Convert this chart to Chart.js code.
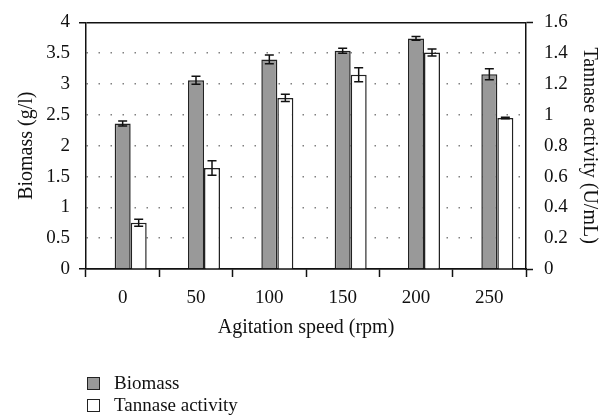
<!DOCTYPE html>
<html>
<head>
<meta charset="utf-8">
<script src="https://cdn.jsdelivr.net/npm/chart.js@4/dist/chart.umd.min.js"></script>
<style>
  html, body { margin: 0; padding: 0; background: #fff; }
  #wrap { position: relative; width: 608px; height: 418px; }
  #legend { position: absolute; left: 87px; top: 372px; font-family: "Liberation Serif", serif; font-size: 19px; color: #111; }
  .item { display: flex; align-items: center; height: 22px; }
  .box { width: 11px; height: 11px; border: 1.5px solid #222; margin-right: 14px; box-sizing: content-box; }
</style>
</head>
<body>
<div id="wrap">
  <canvas id="c" width="608" height="418"></canvas>
  <div id="legend"></div>
</div>
<script>
const categories = ['0', '50', '100', '150', '200', '250'];
const biomass = [2.36, 3.06, 3.40, 3.54, 3.74, 3.16];
const biomassErr = [0.04, 0.065, 0.07, 0.04, 0.03, 0.09];
const tannase = [0.30, 0.655, 1.11, 1.26, 1.405, 0.98];
const tannaseErr = [0.023, 0.047, 0.024, 0.045, 0.023, 0.005];
const leftTicks = [0, 0.5, 1, 1.5, 2, 2.5, 3, 3.5, 4];
const rightTicks = [0, 0.2, 0.4, 0.6, 0.8, 1, 1.2, 1.4, 1.6];

const FONT = '"Liberation Serif", "Times New Roman", serif';
const GREY = '#999999';
const EDGE = '#222222';

const errorBars = {
  id: 'errorBars',
  afterDatasetsDraw(chart) {
    const ctx = chart.ctx;
    const errs = { 1: biomassErr, 2: tannaseErr };
    ctx.save();
    ctx.strokeStyle = '#111';
    ctx.lineWidth = 1.5;
    [1, 2].forEach(di => {
      const meta = chart.getDatasetMeta(di);
      const ds = chart.data.datasets[di];
      const scale = chart.scales[ds.yAxisID];
      meta.data.forEach((bar, i) => {
        const v = ds.data[i];
        const e = errs[di][i];
        const x = bar.x;
        const yTop = scale.getPixelForValue(v + e);
        const yBot = scale.getPixelForValue(v - e);
        const cap = 4.5;
        ctx.beginPath();
        ctx.moveTo(x, yTop); ctx.lineTo(x, yBot);
        ctx.moveTo(x - cap, yTop); ctx.lineTo(x + cap, yTop);
        ctx.moveTo(x - cap, yBot); ctx.lineTo(x + cap, yBot);
        ctx.stroke();
      });
    });
    ctx.restore();
  }
};

const isEdge = (v) => v === 0 || v === 4;

const chart = new Chart(document.getElementById('c'), {
  type: 'bar',
  data: {
    labels: categories,
    datasets: [
      { label: '', data: categories.map(() => null), yAxisID: 'y', backgroundColor: 'transparent' },
      { label: 'Biomass', data: biomass, yAxisID: 'y', backgroundColor: GREY, borderColor: EDGE, borderWidth: 1.5 },
      { label: 'Tannase activity', data: tannase, yAxisID: 'y1', backgroundColor: '#ffffff', borderColor: EDGE, borderWidth: 1.5 }
    ]
  },
  options: {
    responsive: false,
    animation: false,
    devicePixelRatio: 1,
    layout: { padding: { top: 15, bottom: 78, left: 0, right: 0 } },
    datasets: { bar: { categoryPercentage: 0.655, barPercentage: 1.0 } },
    plugins: { legend: { display: false }, tooltip: { enabled: false } },
    scales: {
      x: {
        offset: true,
        afterFit: s => { s.height = 71; },
        grid: { offset: true, drawOnChartArea: false, drawTicks: true, tickLength: 8, tickColor: '#111', tickWidth: 1.5 },
        border: { display: true, color: '#111', width: 1.5 },
        ticks: { color: '#111', font: { family: FONT, size: 19 }, padding: 10, maxRotation: 0 },
        title: { display: true, text: 'Agitation speed (rpm)', color: '#111', font: { family: FONT, size: 20 }, padding: { top: 0, bottom: 0 } }
      },
      y: {
        position: 'left',
        min: 0, max: 4,
        afterFit: s => { s.width = 86; },
        afterBuildTicks: s => { s.ticks = leftTicks.map(v => ({ value: v })); },
        grid: {
          drawOnChartArea: true,
          color: c => (c.tick && isEdge(c.tick.value)) ? '#111' : '#808080',
          lineWidth: 1.5,
          tickLength: 7,
          tickColor: c => (c.tick && isEdge(c.tick.value)) ? '#111' : 'rgba(0,0,0,0)',
          tickWidth: 1.5
        },
        border: {
          display: true, color: '#111', width: 1.5,
          dash: c => (c.tick && !isEdge(c.tick.value)) ? [1.5, 10.5] : []
        },
        ticks: { color: '#111', font: { family: FONT, size: 19 }, padding: 9, callback: v => String(v) },
        title: { display: true, text: 'Biomass (g/l)', color: '#111', font: { family: FONT, size: 20 }, padding: { top: 15, bottom: 0 } }
      },
      y1: {
        position: 'right',
        min: 0, max: 1.6,
        afterFit: s => { s.width = 82; },
        afterBuildTicks: s => { s.ticks = rightTicks.map(v => ({ value: v })); },
        grid: {
          drawOnChartArea: false,
          tickLength: 7,
          tickColor: c => (c.tick && (c.tick.value === 0 || c.tick.value === 1.6)) ? '#111' : 'rgba(0,0,0,0)',
          tickWidth: 1.5
        },
        border: { display: true, color: '#111', width: 1.5 },
        ticks: { color: '#111', font: { family: FONT, size: 19 }, padding: 11, callback: v => String(v) },
        title: { display: true, text: 'Tannase activity (U/mL)', color: '#111', font: { family: FONT, size: 20 }, padding: { top: 7, bottom: 0 } }
      }
    }
  },
  plugins: [errorBars]
});

// HTML legend built from the datasets
const legend = document.getElementById('legend');
chart.data.datasets.slice(1).forEach(ds => {
  const item = document.createElement('div');
  item.className = 'item';
  const box = document.createElement('span');
  box.className = 'box';
  box.style.background = ds.backgroundColor;
  const txt = document.createElement('span');
  txt.textContent = ds.label;
  item.appendChild(box); item.appendChild(txt);
  legend.appendChild(item);
});
</script>
</body>
</html>
